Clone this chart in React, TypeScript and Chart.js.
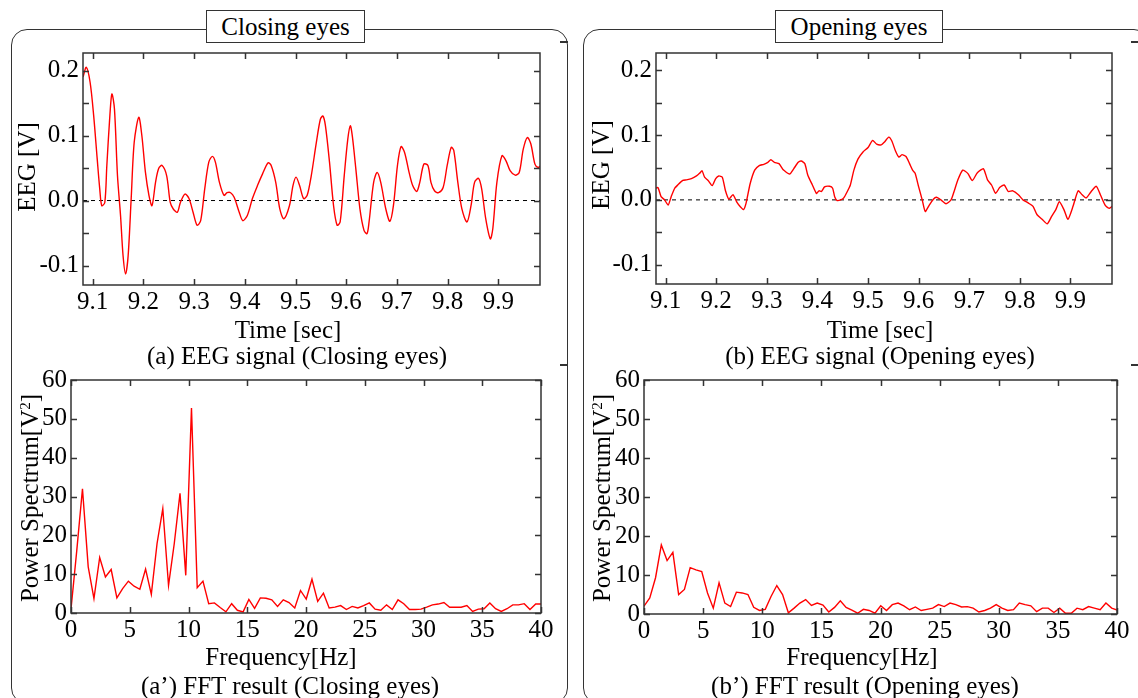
import React, { useEffect, useRef } from "react";
import { Chart, registerables } from "chart.js";

Chart.register(...registerables);

const FONT = '"Liberation Serif", "Times New Roman", serif';

// ---------- data ----------
const closeEegT = [
  9.081, 9.0875, 9.095, 9.102, 9.109, 9.114, 9.118, 9.124, 9.128, 9.134,
  9.138, 9.143, 9.149, 9.155, 9.16, 9.165, 9.17, 9.176, 9.182, 9.191,
  9.197, 9.204, 9.211, 9.217, 9.224, 9.23, 9.237, 9.246, 9.253, 9.259,
  9.267, 9.273, 9.282, 9.29, 9.298, 9.306, 9.313, 9.321, 9.329, 9.336,
  9.342, 9.35, 9.359, 9.365, 9.372, 9.379, 9.389, 9.396, 9.405, 9.415,
  9.425, 9.435, 9.446, 9.452, 9.461, 9.469, 9.477, 9.488, 9.495, 9.501,
  9.508, 9.516, 9.523, 9.531, 9.541, 9.549, 9.554, 9.559, 9.567, 9.575,
  9.582, 9.588, 9.596, 9.603, 9.608, 9.612, 9.619, 9.627, 9.635, 9.641,
  9.645, 9.654, 9.661, 9.668, 9.678, 9.686, 9.693, 9.701, 9.708, 9.715,
  9.724, 9.731, 9.739, 9.745, 9.753, 9.761, 9.767, 9.774, 9.782, 9.791,
  9.799, 9.807, 9.812, 9.82, 9.828, 9.838, 9.846, 9.853, 9.861, 9.867,
  9.875, 9.884, 9.889, 9.897, 9.907, 9.915, 9.923, 9.933, 9.941, 9.949,
  9.957, 9.964, 9.972, 9.978, 9.983,
];
const closeEegV = [
  0.19, 0.205, 0.182, 0.131, 0.064, 0.018, -0.008, -0.003, 0.054, 0.131,
  0.164, 0.141, 0.038, -0.023, -0.085, -0.113, -0.085, 0.003, 0.09, 0.128,
  0.1, 0.044, 0.008, -0.008, 0.028, 0.049, 0.054, 0.038, -0.003, -0.013,
  -0.018, -0.003, 0.01, 0.003, -0.018, -0.038, -0.031, 0.018, 0.059, 0.068,
  0.059, 0.028, 0.008, 0.012, 0.012, 0.005, -0.018, -0.031, -0.023, 0.003,
  0.023, 0.041, 0.058, 0.054, 0.028, -0.013, -0.028, -0.008, 0.023, 0.036,
  0.023, 0.003, 0.008, 0.038, 0.089, 0.125, 0.13, 0.115, 0.059, -0.008,
  -0.038, -0.033, 0.038, 0.094, 0.115, 0.099, 0.048, -0.013, -0.046, -0.051,
  -0.033, 0.028, 0.043, 0.028, -0.013, -0.032, -0.008, 0.054, 0.083, 0.074,
  0.043, 0.023, 0.014, 0.028, 0.056, 0.054, 0.028, 0.015, 0.012, 0.02,
  0.054, 0.082, 0.077, 0.028, -0.013, -0.033, -0.008, 0.028, 0.034, 0.018,
  -0.028, -0.059, -0.043, 0.028, 0.069, 0.061, 0.046, 0.039, 0.043, 0.079,
  0.097, 0.087, 0.056, 0.051, 0.053,
];

const openEegT = [
  9.08, 9.085, 9.091, 9.098, 9.105, 9.111, 9.118, 9.124, 9.134, 9.141,
  9.151, 9.161, 9.167, 9.172, 9.177, 9.184, 9.192, 9.199, 9.205, 9.212,
  9.218, 9.225, 9.233, 9.241, 9.248, 9.254, 9.259, 9.267, 9.276, 9.285,
  9.294, 9.302, 9.308, 9.315, 9.324, 9.333, 9.345, 9.353, 9.362, 9.368,
  9.375, 9.381, 9.39, 9.398, 9.403, 9.408, 9.414, 9.424, 9.43, 9.434,
  9.439, 9.446, 9.452, 9.459, 9.465, 9.472, 9.48, 9.49, 9.5, 9.509,
  9.517, 9.526, 9.532, 9.541, 9.547, 9.554, 9.561, 9.567, 9.575, 9.582,
  9.588, 9.593, 9.6, 9.607, 9.613, 9.621, 9.629, 9.635, 9.644, 9.654,
  9.664, 9.67, 9.677, 9.687, 9.697, 9.706, 9.716, 9.728, 9.736, 9.744,
  9.752, 9.76, 9.769, 9.777, 9.786, 9.797, 9.806, 9.817, 9.826, 9.834,
  9.844, 9.854, 9.863, 9.871, 9.878, 9.887, 9.895, 9.905, 9.915, 9.923,
  9.931, 9.941, 9.951, 9.959, 9.969, 9.977, 9.985,
];
const openEegV = [
  0.018, 0.019, 0.005, 0, -0.008, 0.005, 0.018, 0.023, 0.03, 0.031,
  0.033, 0.037, 0.041, 0.045, 0.035, 0.03, 0.022, 0.033, 0.037, 0.035,
  0.015, 0.001, 0.008, -0.004, -0.011, -0.015, -0.005, 0.025, 0.046, 0.053,
  0.055, 0.058, 0.062, 0.058, 0.056, 0.046, 0.04, 0.048, 0.058, 0.06,
  0.056, 0.038, 0.023, 0.01, 0.014, 0.013, 0.02, 0.021, 0.018, 0.005,
  -0.001, 0, 0.003, 0.013, 0.023, 0.046, 0.063, 0.074, 0.081, 0.092,
  0.086, 0.085, 0.089, 0.097, 0.091, 0.076, 0.066, 0.07, 0.067, 0.056,
  0.046, 0.041, 0.02, 0, -0.018, -0.008, 0.001, 0.004, 0, -0.006,
  0, 0.013, 0.03, 0.046, 0.041, 0.03, 0.042, 0.048, 0.031, 0.023,
  0.01, 0.019, 0.023, 0.013, 0.014, 0.008, 0, -0.005, -0.01, -0.023,
  -0.03, -0.037, -0.025, -0.015, -0.003, -0.015, -0.03, -0.01, 0.014, 0.008,
  0.003, 0.013, 0.021, 0.008, -0.009, -0.013, -0.008,
];

// FFT bins: 250 Hz sampling, 512-point FFT
const FREQ_STEP = 250 / 512;
const closeFft = [
  1, 16, 32, 11.9, 3.7, 14.3, 9.3, 11.2, 3.9, 6.3,
  8.2, 6.9, 6.1, 11.3, 4.8, 17.9, 26.9, 7.1, 17.9, 30.8,
  9.7, 52.8, 6.5, 8.2, 2.4, 2.6, 1.4, 0.3, 2.4, 0.7,
  0.3, 3.5, 1.2, 3.9, 3.8, 3.4, 1.7, 3.4, 2.7, 1.3,
  5.8, 3.6, 8.7, 3.0, 5.1, 1.3, 1.5, 1.9, 0.9, 1.7,
  1.3, 1.9, 2.6, 1.0, 0.7, 2.1, 0.9, 3.4, 2.4, 0.9,
  0.9, 1.0, 1.5, 2.1, 2.3, 2.7, 1.5, 1.5, 1.5, 1.9,
  0.4, 1.0, 1.1, 2.6, 1.1, 0.4, 1.1, 2.1, 2.1, 2.4,
  0.9, 2.3, 2.3,
];
const openFft = [
  2, 4.1, 9.3, 17.7, 13.7, 15.8, 5.0, 6.3, 11.9, 11.3,
  10.9, 5.4, 1.5, 8.0, 2.8, 1.9, 5.6, 5.4, 5.0, 1.7,
  0.9, 1.2, 4.5, 7.3, 5.0, 0.3, 1.5, 2.8, 3.7, 2.2,
  2.8, 2.3, 0.5, 1.7, 3.4, 1.7, 1.0, 0.2, 1.2, 0.9,
  0.2, 2.1, 0.9, 2.4, 2.8, 2.1, 1.1, 1.8, 0.9, 1.2,
  1.5, 2.4, 1.9, 2.8, 2.4, 1.8, 1.9, 1.5, 0.5, 0.9,
  1.5, 2.4, 1.5, 0.9, 1.1, 2.8, 2.4, 2.1, 0.6, 1.5,
  1.5, 0.4, 1.5, 0.2, 0.2, 1.5, 1.1, 1.9, 1.5, 1.1,
  2.8, 1.5, 1.0,
];

const timeTicks = [9.1, 9.2, 9.3, 9.4, 9.5, 9.6, 9.7, 9.8, 9.9];
const eegLabelTicks = [-0.1, 0, 0.1, 0.2];
const eegMarkTicks = [-0.1, -0.05, 0, 0.05, 0.1, 0.15, 0.2];
const freqTicks = [0, 5, 10, 15, 20, 25, 30, 35, 40];
const powerTicks = [0, 10, 20, 30, 40, 50, 60];

// ---------- plot ----------
const YW = 80, PT = 20, PR = 25, XH = 50;

const frameTicks = {
  id: "frameTicks",
  afterDatasetsDraw(chart: any, _args: any, opts: any) {
    const { ctx, chartArea: a, scales } = chart;
    const x = scales.x, y = scales.y;
    const L = 6;
    ctx.save();
    ctx.strokeStyle = "#333";
    ctx.lineWidth = 1.5;
    ctx.strokeRect(a.left, a.top, a.right - a.left, a.bottom - a.top);
    ctx.beginPath();
    (opts.xMarks || []).forEach((v: number) => {
      const p = Math.round(x.getPixelForValue(v)) + 0.5;
      ctx.moveTo(p, a.bottom); ctx.lineTo(p, a.bottom - L);
      ctx.moveTo(p, a.top); ctx.lineTo(p, a.top + L);
    });
    (opts.yMarks || []).forEach((v: number) => {
      const p = Math.round(y.getPixelForValue(v)) + 0.5;
      ctx.moveTo(a.left, p); ctx.lineTo(a.left + L, p);
      ctx.moveTo(a.right, p); ctx.lineTo(a.right - L, p);
    });
    ctx.stroke();
    ctx.restore();
  },
};

type Area = { l: number; t: number; r: number; b: number };

function Plot(props: {
  area: Area;
  datasets: any[];
  xMin: number; xMax: number; yMin: number; yMax: number;
  xLabels: number[]; yLabels: number[];
  xMarks: number[]; yMarks: number[];
  fmtX: (v: number) => string; fmtY: (v: number) => string;
}) {
  const ref = useRef<HTMLCanvasElement>(null);
  const { area } = props;
  const w = area.r - area.l + YW + PR;
  const h = area.b - area.t + PT + XH;
  useEffect(() => {
    const chart = new Chart(ref.current as HTMLCanvasElement, {
      type: "line",
      data: { datasets: props.datasets },
      plugins: [frameTicks as any],
      options: {
        animation: false,
        responsive: false,
        maintainAspectRatio: false,
        events: [],
        layout: { padding: { top: PT, right: PR, left: 0, bottom: 0 } },
        plugins: {
          legend: { display: false },
          tooltip: { enabled: false },
          frameTicks: { xMarks: props.xMarks, yMarks: props.yMarks },
        } as any,
        scales: {
          x: {
            type: "linear",
            min: props.xMin,
            max: props.xMax,
            grid: { display: false, drawTicks: false },
            border: { display: false },
            afterBuildTicks: (s: any) => { s.ticks = props.xLabels.map((v) => ({ value: v })); },
            afterFit: (s: any) => { s.height = XH; },
            ticks: {
              font: { family: FONT, size: 25 },
              color: "#000",
              padding: 2,
              maxRotation: 0,
              autoSkip: false,
              callback: (v: any) => props.fmtX(Number(v)),
            },
          },
          y: {
            type: "linear",
            min: props.yMin,
            max: props.yMax,
            grid: { display: false, drawTicks: false },
            border: { display: false },
            afterBuildTicks: (s: any) => { s.ticks = props.yLabels.map((v) => ({ value: v })); },
            afterFit: (s: any) => { s.width = YW; },
            ticks: {
              font: { family: FONT, size: 25 },
              color: "#000",
              padding: 4,
              autoSkip: false,
              callback: (v: any) => props.fmtY(Number(v)),
            },
          },
        },
      },
    });
    return () => chart.destroy();
  }, []);
  return (
    <canvas
      ref={ref}
      width={w}
      height={h}
      style={{ position: "absolute", left: area.l - YW, top: area.t - PT, width: w, height: h }}
    />
  );
}

const redLine = (xs: number[], ys: number[], tension: number) => ({
  data: xs.map((x, i) => ({ x, y: ys[i] })),
  borderColor: "#ff0000",
  borderWidth: 1.4,
  pointRadius: 0,
  tension,
  fill: false,
});

const zeroLine = (a: number, b: number) => ({
  data: [{ x: a, y: 0 }, { x: b, y: 0 }],
  borderColor: "#000",
  borderWidth: 1,
  borderDash: [4, 4],
  pointRadius: 0,
  fill: false,
});

const freqs = (vals: number[]) => vals.map((_, i) => i * FREQ_STEP);

const T_MIN = 9.081, T_MAX = 9.982, V_MIN = -0.13, V_MAX = 0.227;

function Txt(props: { x: number; y: number; children: any; rot?: boolean }) {
  return (
    <div
      style={{
        position: "absolute",
        left: props.x,
        top: props.y,
        transform: `translate(-50%, -50%)${props.rot ? " rotate(-90deg)" : ""}`,
        whiteSpace: "nowrap",
        fontFamily: FONT,
        fontSize: 25,
        lineHeight: 1,
        color: "#000",
      }}
    >
      {props.children}
    </div>
  );
}

function Box(props: { l: number; t: number; r: number; b: number }) {
  return (
    <div
      style={{
        position: "absolute",
        left: props.l,
        top: props.t,
        width: props.r - props.l,
        height: props.b - props.t,
        border: "1.5px solid #333",
        borderRadius: 16,
        boxSizing: "border-box",
      }}
    />
  );
}

function TitleBox(props: { l: number; t: number; w: number; h: number; text: string }) {
  return (
    <div
      style={{
        position: "absolute",
        left: props.l,
        top: props.t,
        width: props.w,
        height: props.h,
        border: "1.5px solid #333",
        background: "#fff",
        boxSizing: "border-box",
        display: "flex",
        alignItems: "center",
        justifyContent: "center",
        fontFamily: FONT,
        fontSize: 25,
        lineHeight: 1,
      }}
    >
      {props.text}
    </div>
  );
}

function Mark(props: { x: number; y: number }) {
  return <div style={{ position: "absolute", left: props.x, top: props.y, width: 8, height: 1.5, background: "#333" }} />;
}

export default function App() {
  const f1 = (v: number) => v.toFixed(1);
  const f0 = (v: number) => String(v);
  const pw = (
    <span>
      Power Spectrum[V<sup style={{ fontSize: 15, verticalAlign: "8px", lineHeight: 0 }}>2</sup>]
    </span>
  );
  return (
    <div
      style={{
        position: "fixed",
        left: 0,
        top: 0,
        width: 1138,
        height: 698,
        background: "#fff",
        overflow: "hidden",
      }}
    >
      <Box l={11} t={29} r={568} b={704} />
      <Box l={583} t={29} r={1150} b={704} />
      <Mark x={560} y={41} />
      <Mark x={560} y={364} />
      <Mark x={1131} y={41} />
      <Mark x={1131} y={364} />
      <TitleBox l={206} t={10} w={159} h={33} text="Closing eyes" />
      <TitleBox l={775} t={10} w={168} h={33} text="Opening eyes" />

      <Plot
        area={{ l: 83, t: 53, r: 540, b: 285 }}
        datasets={[redLine(closeEegT, closeEegV, 0.3), zeroLine(T_MIN, T_MAX)]}
        xMin={T_MIN} xMax={T_MAX} yMin={V_MIN} yMax={V_MAX}
        xLabels={timeTicks} yLabels={eegLabelTicks}
        xMarks={timeTicks} yMarks={eegMarkTicks}
        fmtX={f1} fmtY={f1}
      />
      <Plot
        area={{ l: 656, t: 53, r: 1112, b: 284 }}
        datasets={[redLine(openEegT, openEegV, 0.2), zeroLine(T_MIN, T_MAX)]}
        xMin={T_MIN} xMax={T_MAX} yMin={V_MIN} yMax={V_MAX}
        xLabels={timeTicks} yLabels={eegLabelTicks}
        xMarks={timeTicks} yMarks={eegMarkTicks}
        fmtX={f1} fmtY={f1}
      />
      <Plot
        area={{ l: 71, t: 380, r: 541, b: 613 }}
        datasets={[redLine(freqs(closeFft), closeFft, 0)]}
        xMin={0} xMax={40} yMin={0} yMax={60}
        xLabels={freqTicks} yLabels={powerTicks}
        xMarks={freqTicks} yMarks={powerTicks}
        fmtX={f0} fmtY={f0}
      />
      <Plot
        area={{ l: 644, t: 380, r: 1117, b: 614 }}
        datasets={[redLine(freqs(openFft), openFft, 0)]}
        xMin={0} xMax={40} yMin={0} yMax={60}
        xLabels={freqTicks} yLabels={powerTicks}
        xMarks={freqTicks} yMarks={powerTicks}
        fmtX={f0} fmtY={f0}
      />

      <Txt x={26} y={167} rot>EEG [V]</Txt>
      <Txt x={288} y={329}>Time [sec]</Txt>
      <Txt x={297} y={355}>(a) EEG signal (Closing eyes)</Txt>
      <Txt x={600} y={165} rot>EEG [V]</Txt>
      <Txt x={880} y={329}>Time [sec]</Txt>
      <Txt x={880} y={355}>(b) EEG signal (Opening eyes)</Txt>

      <Txt x={29} y={498} rot>{pw}</Txt>
      <Txt x={281} y={656}>Frequency[Hz]</Txt>
      <Txt x={290} y={685}>(a’) FFT result (Closing eyes)</Txt>
      <Txt x={601} y={498} rot>{pw}</Txt>
      <Txt x={862} y={656}>Frequency[Hz]</Txt>
      <Txt x={865} y={685}>(b’) FFT result (Opening eyes)</Txt>
    </div>
  );
}
